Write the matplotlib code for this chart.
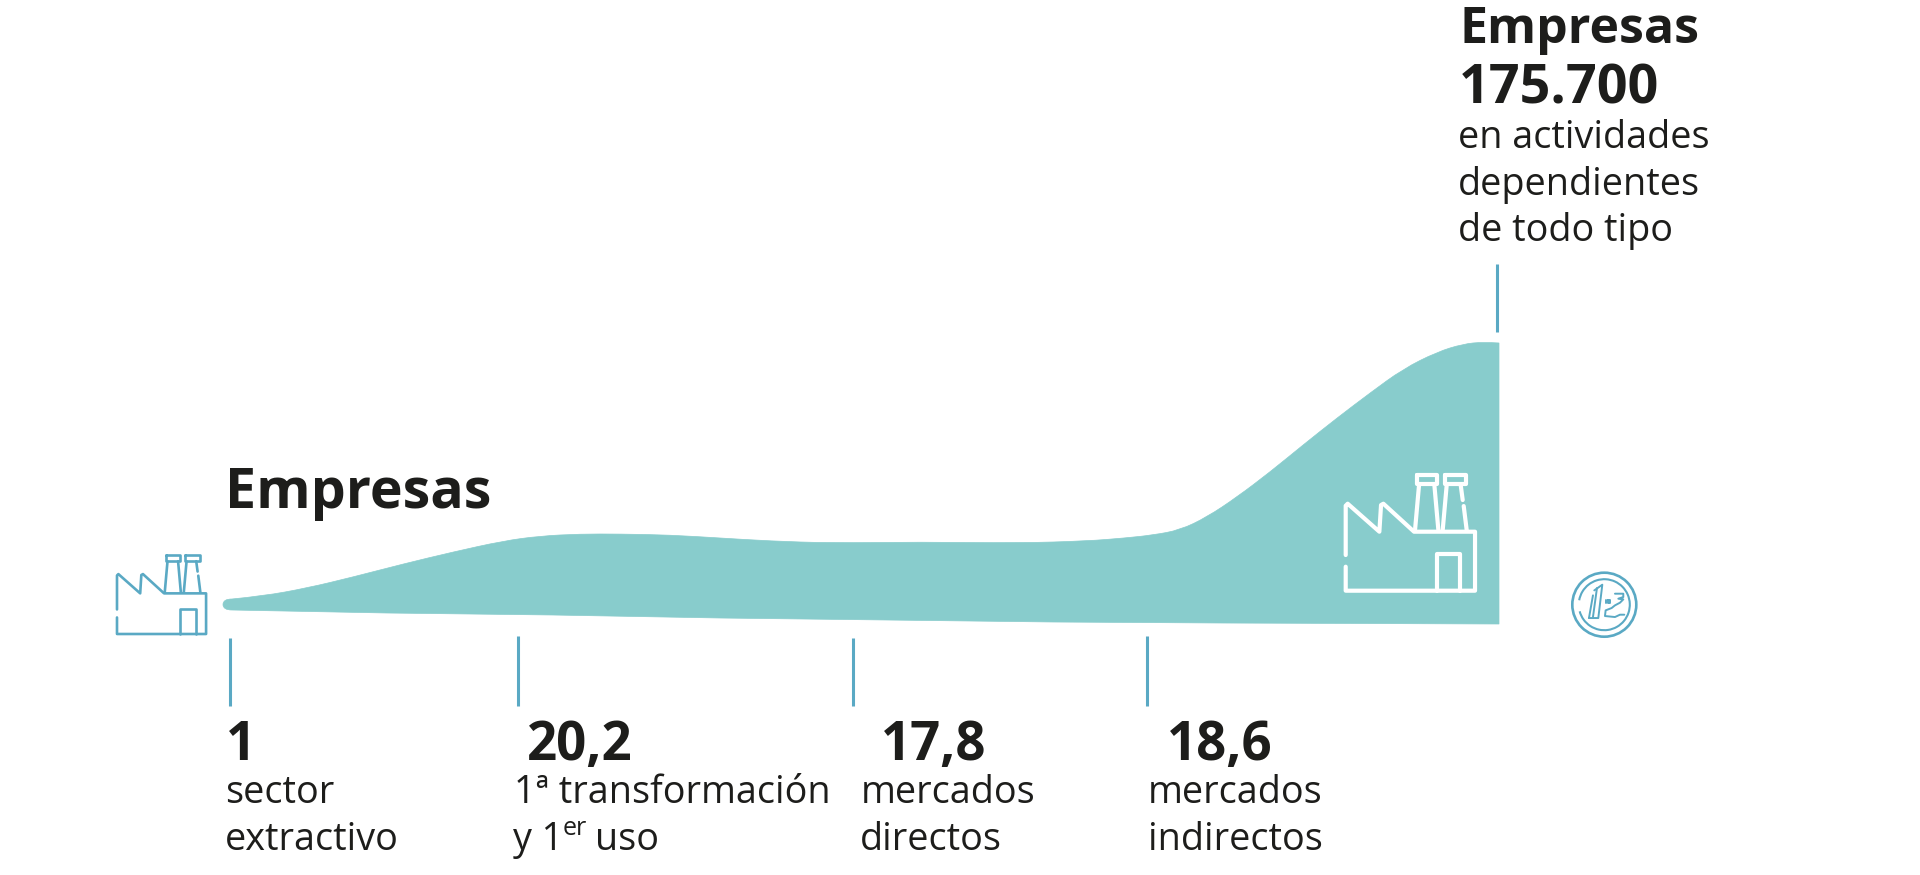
import matplotlib
matplotlib.use("Agg")
import matplotlib.pyplot as plt
from matplotlib.path import Path
from matplotlib.patches import PathPatch, Circle, Arc

# ---- data (outline of the flow shape, in image pixels)
top_x = [232, 263, 307, 353, 403, 453, 503, 540, 580, 620, 670, 720, 770, 830, 920, 1020, 1087,
         1125, 1153, 1180, 1207, 1237, 1270, 1303, 1337, 1370, 1403, 1437, 1463, 1483, 1499]
top_y = [599, 596, 588, 577, 564, 552, 541, 536, 534, 534, 535, 538, 541, 543, 542, 543, 541,
         538, 535, 530, 517, 497, 472, 445, 418, 393, 369, 352, 344, 342, 343]
bottom_x = [1499, 1220, 1053, 887, 720, 553, 387, 232]
bottom_y = [624, 623, 622, 620, 618, 615, 613, 610]
tip_x = [223, 223, 223, 232]
tip_y = [610, 604.5, 599, 599]

tick_x = [230, 518, 853, 1147]
tick_y0 = [638, 636, 638, 636]
tick_y1 = 706
top_tick_x = 1497
top_tick_y = [264, 332]

values = ["1", "20,2", "17,8", "18,6"]
value_x = [226, 527, 881, 1167]
line1 = ["sector", "1ª transformación", "mercados", "mercados"]
line1_x = [225, 514, 861, 1148]
line2 = ["extractivo", None, "directos", "indirectos"]
line2_x = [225, None, 860, 1148]

DARK = "#1d1d1b"
FILL = "#88cccc"
LINE = "#5aa9c4"
BOLD = dict(family="Open Sans", weight="bold", color=DARK, va="baseline", ha="left")
REG = dict(family="Open Sans", color=DARK, va="baseline", ha="left")

fig = plt.figure(figsize=(19.2, 8.75), dpi=100, facecolor="white")
ax = fig.add_axes([0, 0, 1, 1])
ax.set_xlim(0, 1920)
ax.set_ylim(875, 0)
ax.axis("off")

# ---- shape
verts = [(top_x[0], top_y[0])]
codes = [Path.MOVETO]
for i in range(1, len(top_x) - 1):
    nx = (top_x[i] + top_x[i + 1]) / 2 if i < len(top_x) - 2 else top_x[-1]
    ny = (top_y[i] + top_y[i + 1]) / 2 if i < len(top_x) - 2 else top_y[-1]
    verts += [(top_x[i], top_y[i]), (nx, ny)]
    codes += [Path.CURVE3, Path.CURVE3]
for x, y in zip(bottom_x, bottom_y):
    verts.append((x, y))
    codes.append(Path.LINETO)
for x, y in zip(tip_x, tip_y):
    verts.append((x, y))
    codes.append(Path.CURVE3)
ax.add_patch(PathPatch(Path(verts, codes), facecolor=FILL, edgecolor=FILL, lw=0.5, zorder=1))

# ---- tick lines
ax.vlines(tick_x, tick_y0, tick_y1, color=LINE, lw=2.2, zorder=2)
ax.vlines(top_tick_x, top_tick_y[0], top_tick_y[1], color=LINE, lw=2.2, zorder=2)


# ---- factory icon
def factory(x0, y0, s, color, lw):
    def T(pts):
        return [x0 + (p[0] - 137) * s for p in pts], [y0 + (p[1] - 452) * s for p in pts]
    strokes = [
        [(137, 345), (137, 197), (143, 191), (238, 275), (243, 195), (250, 191), (342, 275), (525, 275),
         (525, 452), (137, 452), (137, 380)],
        [(410, 452), (410, 342), (480, 342), (480, 452)],
        [(345, 270), (357, 135)], [(403, 135), (415, 270)],
        [(428, 270), (440, 135)], [(482, 135), (488, 180)], [(491, 198), (500, 270)],
        [(350, 106), (412, 106), (412, 133), (350, 133), (350, 106)],
        [(435, 106), (497, 106), (497, 133), (435, 133), (435, 106)],
    ]
    for st in strokes:
        xs, ys = T(st)
        ax.plot(xs, ys, color=color, lw=lw, solid_capstyle="round", solid_joinstyle="round", zorder=3)


factory(117, 634, 0.2296, LINE, 1.9)
factory(1345.7, 590.7, 1 / 3, "white", 3.0)

# ---- coin icon
cx, cy = 1604.3, 604.7
ax.add_patch(Circle((cx, cy), 32, fill=False, ec=LINE, lw=1.9, zorder=3))
ax.add_patch(Arc((cx, cy), 51, 51, angle=0, theta1=-170, theta2=165, ec=LINE, lw=1.5, zorder=3))
coin = [
    [(72, 158), (100, 158), (112, 58), (88, 75)],
    [(84, 90), (72, 158)],
    [(96, 68), (84, 155)],
    [(150, 85), (175, 85), (175, 95), (160, 100), (175, 102), (165, 112), (150, 120), (140, 128), (122, 135),
     (120, 152), (150, 155), (165, 148), (178, 148)],
    [(122, 104), (122, 112)],
    [(129, 104), (135, 104), (135, 114), (129, 114), (129, 104)],
]
for st in coin:
    ax.plot([cx + (p[0] - 118) / 3 for p in st], [cy + (p[1] - 118) / 3 for p in st],
            color=LINE, lw=1.4, solid_capstyle="round", solid_joinstyle="round", zorder=3)

# ---- text
VAL = 38
BODY = 27.2
ax.text(225, 508, "Empresas", fontsize=40, **BOLD)
ax.text(1459, 43, "Empresas", fontsize=36, **BOLD)
ax.text(1459, 103, "175.700", fontsize=38.8, **BOLD)
ax.text(1458, 148, "en actividades", fontsize=BODY, **REG)
ax.text(1458, 195, "dependientes", fontsize=BODY, **REG)
ax.text(1458, 241, "de todo tipo", fontsize=BODY, **REG)

for v, x in zip(values, value_x):
    ax.text(x, 760, v, fontsize=VAL, **BOLD)
for t, x in zip(line1, line1_x):
    ax.text(x, 803, t, fontsize=BODY, **REG)
for t, x in zip(line2, line2_x):
    if t:
        ax.text(x, 850, t, fontsize=BODY, **REG)
ax.text(513, 850, "y 1", fontsize=BODY, **REG)
ax.text(563, 835, "er", fontsize=18, **REG)
ax.text(595, 850, "uso", fontsize=BODY, **REG)

fig.savefig("out.png", dpi=100, facecolor="white")
